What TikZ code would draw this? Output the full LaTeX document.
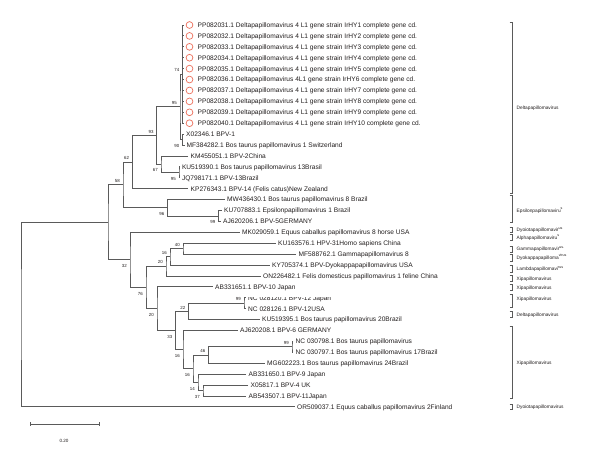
\documentclass[tikz,border=0pt]{standalone}
\usepackage{fontspec}
\setmainfont{Liberation Sans}
\definecolor{treegray}{RGB}{90,90,90}
\definecolor{txt}{RGB}{34,30,30}
\definecolor{circ}{RGB}{236,112,92}
\newcommand\rowy[1]{25+(#1-1)*10.91}
\newcommand\csup[1]{\raisebox{2.4pt}{\fontsize{3.6}{4}\selectfont #1}}
\begin{document}
\begin{tikzpicture}[x=1pt,y=-1pt,
  br/.style={draw=treegray, line width=0.85pt},
  taxon/.style={anchor=base west, inner sep=0pt, text=txt, font=\fontsize{6.6}{7}\selectfont},
  bootu/.style={anchor=base east, inner sep=0pt, text=txt, font=\fontsize{4.4}{5}\selectfont},
  clade/.style={anchor=base west, inner sep=0pt, text=txt, font=\fontsize{4.8}{5.5}\selectfont},
  cbar/.style={draw=treegray, line width=0.85pt},
  ppmark/.style={circle, draw=circ, line width=0.7pt, minimum size=6.8pt, inner sep=0pt}]
\useasboundingbox (0,0) rectangle (600,459);
\fill[white] (0,0) rectangle (600,459);
% leaves
\newcommand\tx[4]{\coordinate (l#1) at (#2,{\rowy{#1}}); \node[taxon] (t#1) at (#3,{\rowy{#1}+2.4}) {#4};}
\newcommand\ppl[2]{\tx{#1}{184}{197.5}{#2}\node[ppmark] (c#1) at (189.5,{\rowy{#1}}) {};}
\ppl{1}{PP082031.1 Deltapapillomavirus 4 L1 gene strain IrHY1 complete gene cd.}
\ppl{2}{PP082032.1 Deltapapillomavirus 4 L1 gene strain IrHY2 complete gene cd.}
\ppl{3}{PP082033.1 Deltapapillomavirus 4 L1 gene strain IrHY3 complete gene cd.}
\ppl{4}{PP082034.1 Deltapapillomavirus 4 L1 gene strain IrHY4 complete gene cd.}
\ppl{5}{PP082035.1 Deltapapillomavirus 4 L1 gene strain IrHY5 complete gene cd.}
\ppl{6}{PP082036.1 Deltapapillomavirus 4L1 gene strain IrHY6 complete gene cd.}
\ppl{7}{PP082037.1 Deltapapillomavirus 4 L1 gene strain IrHY7 complete gene cd.}
\ppl{8}{PP082038.1 Deltapapillomavirus 4 L1 gene strain IrHY8 complete gene cd.}
\ppl{9}{PP082039.1 Deltapapillomavirus 4 L1 gene strain IrHY9 complete gene cd.}
\ppl{10}{PP082040.1 Deltapapillomavirus 4 L1 gene strain IrHY10 complete gene cd.}
\tx{11}{184}{186}{X02346.1 BPV-1}
\tx{12}{184.5}{186.5}{MF384282.1 Bos taurus papillomavirus 1 Switzerland}
\tx{13}{188}{190.5}{KM455051.1 BPV-2China}
\tx{14}{180}{181.8}{KU519390.1 Bos taurus papillomavirus 13Brasil}
\tx{15}{180}{181.8}{JQ798171.1 BPV-13Brazil}
\tx{16}{188}{190.5}{KP276343.1 BPV-14 (Felis catus)New Zealand}
\tx{17}{224.5}{227}{MW436430.1 Bos taurus papillomavirus 8 Brazil}
\tx{18}{221.5}{224}{KU707883.1 Epsilonpapillomavirus 1 Brazil}
\tx{19}{220.5}{223}{AJ620206.1 BPV-5GERMANY}
\tx{20}{239.5}{242}{MK029059.1 Equus caballus papillomavirus 8 horse USA}
\tx{21}{275.5}{278}{KU163576.1 HPV-31Homo sapiens China}
\tx{22}{296}{298.5}{MF588762.1 Gammapapillomavirus 8}
\tx{23}{269.5}{272}{KY705374.1 BPV-Dyokappapapillomavirus USA}
\tx{24}{260.5}{263}{ON226482.1 Felis domesticus papillomavirus 1 feline China}
\tx{25}{212.5}{215}{AB331651.1 BPV-10 Japan}
\tx{26}{245.5}{248}{NC 028120.1 BPV-12 Japan}
\fill[white] (247,293.5) rectangle (335,297.4);
\tx{27}{245.5}{248}{NC 028126.1 BPV-12USA}
\tx{28}{259.5}{262}{KU519395.1 Bos taurus papillomavirus 20Brazil}
\tx{29}{237.5}{240}{AJ620208.1 BPV-6 GERMANY}
\tx{30}{293}{295.5}{NC 030798.1 Bos taurus papillomavirus}
\tx{31}{293}{295.5}{NC 030797.1 Bos taurus papillomavirus 17Brazil}
\tx{32}{264.5}{267}{MG602223.1 Bos taurus papillomavirus 24Brazil}
\tx{33}{246}{248.5}{AB331650.1 BPV-9 Japan}
\tx{34}{248}{250.5}{X05817.1 BPV-4 UK}
\tx{35}{246}{248.5}{AB543507.1 BPV-11Japan}
\tx{36}{294.5}{297}{OR509037.1 Equus caballus papillomavirus 2Finland}
% internal nodes
\coordinate (R) at (21,314.65);
\coordinate (X) at (108,222.4);
\coordinate (A) at (123,184.9);
\coordinate (B) at (132.3,162.1);
\coordinate (C) at (156.7,135.5);
\coordinate (D) at (180,106.9);
\coordinate (E) at (182.5,74.1);
\coordinate (F) at (182.5,139.6);
\coordinate (G) at (161,164.1);
\coordinate (H) at (179,172.3);
\coordinate (I) at (167.5,207.8);
\coordinate (J) at (218.5,216);
\coordinate (L) at (130,259.9);
\coordinate (N76) at (146,287.5);
\coordinate (N20a) at (166,266.3);
\coordinate (N16a) at (170,256.8);
\coordinate (N40) at (183,248.7);
\coordinate (N20b) at (157,308.7);
\coordinate (N33) at (175.5,330.5);
\coordinate (N22) at (188.5,311.4);
\coordinate (N99a) at (244,303.2);
\coordinate (N16b) at (183,349.6);
\coordinate (N16c) at (193,368.7);
\coordinate (N46) at (208.5,355);
\coordinate (N99b) at (292,346.9);
\coordinate (N14) at (198,382.3);
\coordinate (N37) at (203,390.5);
% branches
\draw[br] (l1) -| (E) |- (l10);
\foreach \k in {2,...,9} {\draw[br] (E |- l\k) -- (l\k);}
\draw[br] (l11) -| (F) |- (l12);
\draw[br] (E) -| (D) |- (F);
\draw[br] (l14) -| (H) |- (l15);
\draw[br] (l13) -| (G) |- (H);
\draw[br] (D) -| (C) |- (G);
\draw[br] (C) -| (B) |- (l16);
\draw[br] (l18) -| (J) |- (l19);
\draw[br] (l17) -| (I) |- (J);
\draw[br] (B) -| (A) |- (I);
\draw[br] (l21) -| (N40) |- (l22);
\draw[br] (N40) -| (N16a) |- (l23);
\draw[br] (N16a) -| (N20a) |- (l24);
\draw[br] (l26) -| (N99a) |- (l27);
\draw[br] (N99a) -| (N22) |- (l28);
\draw[br] (l30) -| (N99b) |- (l31);
\draw[br] (N99b) -| (N46) |- (l32);
\draw[br] (l34) -| (N37) |- (l35);
\draw[br] (l33) -| (N14) |- (N37);
\draw[br] (N46) -| (N16c) |- (N14);
\draw[br] (l29) -| (N16b) |- (N16c);
\draw[br] (N22) -| (N33) |- (N16b);
\draw[br] (l25) -| (N20b) |- (N33);
\draw[br] (N20a) -| (N76) |- (N20b);
\draw[br] (l20) -| (L) |- (N76);
\draw[br] (A) -| (X) |- (L);
\draw[br] (X) -| (R) |- (l36);
% bootstrap values (u = above branch, d = below branch)
\newcommand\bu[2]{\node[bootu] (bs#1) at ([xshift=-3pt,yshift=2.4pt]#1) {#2};}
\newcommand\bd[2]{\node[bootu] (bs#1) at ([xshift=-3pt,yshift=-7.8pt]#1) {#2};}
\bu{E}{74}
\bu{D}{95}
\bd{F}{90}
\bu{C}{93}
\bd{G}{67}
\bd{H}{95}
\bu{B}{62}
\bu{A}{58}
\bd{I}{96}
\bd{J}{99}
\bd{L}{32}
\bd{N76}{76}
\bu{N20a}{20}
\bu{N16a}{16}
\bu{N40}{40}
\bd{N20b}{20}
\bd{N33}{33}
\bu{N22}{22}
\bu{N99a}{99}
\bd{N16b}{16}
\bd{N16c}{16}
\bu{N46}{46}
\bu{N99b}{99}
\bd{N14}{14}
\bd{N37}{37}
% clade brackets
\newcommand\cbr[4]{\draw[cbar] (509.5,#1) -- (512,#1) -- (512,#2) -- (509.5,#2);
  \node[clade] at (516.5,#3+1.7) {#4};}
\cbr{22}{193}{108}{Deltapapillomavirus}
\cbr{195.5}{222}{210.5}{Epsilonpapillomaviru\csup{s}}
\cbr{227}{232.5}{230}{Dyoiotapapillomavir\csup{us}}
\cbr{234.5}{240}{237.5}{Alphapapillomaviru\csup{s}}
\cbr{246}{252}{249}{Gammapapillomavir\csup{us.}}
\cbr{254}{261}{257.5}{Dyokappapapilloma\csup{virus}}
\cbr{265.5}{272}{269}{Lambdapapillomavi\csup{rus}}
\cbr{275.5}{281}{278.3}{Xipapillomavirus}
\cbr{284.5}{290}{287.3}{Xipapillomavirus}
\cbr{294}{307}{299}{Xipapillomavirus}
\cbr{311.5}{317}{314.3}{Deltapapillomavirus}
\cbr{326}{398}{362.3}{Xipapillomavirus}
\cbr{404}{409.5}{406.8}{Dyoiotapapillomavirus}
% scale bar
\coordinate (s0) at (30,424);
\coordinate (s1) at (99,424);
\draw[br] (s0) -- (s1);
\draw[br] ([yshift=2pt]s0) -- ([yshift=-2pt]s0);
\draw[br] ([yshift=2pt]s1) -- ([yshift=-2pt]s1);
\node[text=txt, inner sep=0pt, font=\fontsize{4.6}{5}\selectfont] (sl) at (64,441) {0.20};
\end{tikzpicture}
\end{document}
